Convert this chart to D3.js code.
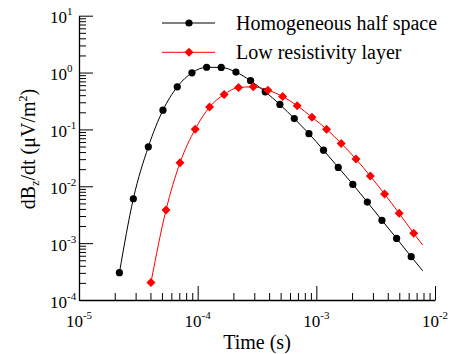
<!DOCTYPE html>
<html>
<head>
<meta charset="utf-8">
<script src="https://cdn.jsdelivr.net/npm/d3@7"></script>
<style>
  body { margin: 0; background: #fff; }
  svg text { font-family: "Liberation Serif", "Times New Roman", serif; fill: #000; }
</style>
</head>
<body>
<div id="chart"></div>
<script>
// data (time in s, dBz/dt in uV/m2)
var halfTime = [2.19e-5, 2.87e-5, 3.84e-5, 5.1e-5, 6.73e-5, 8.95e-5, 1.19e-4, 1.58e-4, 2.10e-4, 2.79e-4,
                3.71e-4, 4.93e-4, 6.52e-4, 8.66e-4, 1.15e-3, 1.53e-3, 2.03e-3, 2.69e-3, 3.57e-3, 4.75e-3, 6.30e-3];
var halfValue = [3.02e-4, 6.03e-3, 4.94e-2, 0.218, 0.561, 0.99, 1.24, 1.23, 1.02, 0.72,
                 0.458, 0.275, 0.155, 0.0843, 0.0432, 0.0215, 0.0108, 5.27e-3, 2.52e-3, 1.21e-3, 5.77e-4];
var halfEnd = [7.87e-3, 3.27e-4]; // curve keeps going past the last marker

var lowTime = [4.04e-5, 5.41e-5, 7.10e-5, 9.53e-5, 1.26e-4, 1.67e-4, 2.21e-4, 2.94e-4, 3.91e-4, 5.20e-4,
               6.90e-4, 9.18e-4, 1.22e-3, 1.62e-3, 2.16e-3, 2.85e-3, 3.76e-3, 4.99e-3, 6.61e-3];
var lowValue = [2.03e-4, 3.82e-3, 0.0259, 0.101, 0.248, 0.412, 0.547, 0.561, 0.491, 0.379,
                0.262, 0.164, 0.101, 0.0568, 0.0301, 0.0151, 7.29e-3, 3.34e-3, 1.49e-3];
var lowEnd = [7.87e-3, 9.27e-4];

var seriesNames = ["Homogeneous half space", "Low resistivity layer"];
var xTickExp = [-5, -4, -3, -2];
var yTickExp = [-4, -3, -2, -1, 0, 1];

var width = 453, height = 354;
var serif = "'Liberation Serif', 'Times New Roman', serif";

var svg = d3.select("#chart").append("svg")
    .attr("width", width)
    .attr("height", height);

var x = d3.scaleLog().domain([1e-5, 1e-2]).range([79, 435]);
var y = d3.scaleLog().domain([1e-4, 1e1]).range([300, 15.7]);

function isMajor(d) {
  var l = Math.log10(d);
  return Math.abs(l - Math.round(l)) < 1e-6;
}

// minor ticks
var minorX = x.ticks().filter(function(d) { return !isMajor(d); });
var minorY = y.ticks().filter(function(d) { return !isMajor(d); });

svg.append("g")
    .attr("transform", "translate(0,300)")
    .call(d3.axisBottom(x).tickValues(minorX).tickSize(-7).tickFormat(""))
    .call(function(g) { g.select(".domain").remove(); });
svg.append("g")
    .attr("transform", "translate(79,0)")
    .call(d3.axisLeft(y).tickValues(minorY).tickSize(-7).tickFormat(""))
    .call(function(g) { g.select(".domain").remove(); });

// major ticks + axis lines
svg.append("g")
    .attr("class", "x axis")
    .attr("transform", "translate(0,300)")
    .call(d3.axisBottom(x).tickValues(xTickExp.map(function(e) { return Math.pow(10, e); }))
      .tickSize(-14).tickSizeOuter(0).tickFormat(""));
svg.append("g")
    .attr("class", "y axis")
    .attr("transform", "translate(79,0)")
    .call(d3.axisLeft(y).tickValues(yTickExp.map(function(e) { return Math.pow(10, e); }))
      .tickSize(-14).tickSizeOuter(0).tickFormat(""));

svg.selectAll(".domain").attr("stroke", "#000").attr("stroke-width", 1.3);
svg.selectAll(".tick line").attr("stroke", "#000").attr("stroke-width", 1);

// tick labels as 10^n
var xLab = svg.selectAll(".xlab")
    .data(xTickExp)
  .enter().append("text")
    .attr("class", "xlab")
    .attr("x", function(d) { return x(Math.pow(10, d)); })
    .attr("y", 326.5)
    .attr("text-anchor", "middle")
    .style("font-family", serif)
    .style("font-size", "17px");
xLab.append("tspan").text("10");
xLab.append("tspan").attr("dy", -8).style("font-size", "11px").text(function(d) { return d; });

var yLab = svg.selectAll(".ylab")
    .data(yTickExp)
  .enter().append("text")
    .attr("class", "ylab")
    .attr("x", 50)
    .attr("y", function(d) { return y(Math.pow(10, d)) + 7.5; })
    .style("font-family", serif)
    .style("font-size", "17px");
yLab.append("tspan").text("10");
yLab.append("tspan").attr("dy", -8).style("font-size", "11px").text(function(d) { return d; });

// axis titles
svg.append("text")
    .attr("x", 257)
    .attr("y", 349)
    .attr("text-anchor", "middle")
    .style("font-family", serif)
    .style("font-size", "20px")
    .text("Time (s)");

var yTitle = svg.append("text")
    .attr("transform", "translate(35,149) rotate(-90)")
    .attr("text-anchor", "middle")
    .style("font-family", serif)
    .style("font-size", "20px");
yTitle.append("tspan").text("dB");
yTitle.append("tspan").attr("dy", 4).style("font-size", "12px").text("z");
yTitle.append("tspan").attr("dy", -4).text("/dt (\u03bcV/m");
yTitle.append("tspan").attr("dy", -8).style("font-size", "12px").text("2");
yTitle.append("tspan").attr("dy", 8).text(")");

// series
var halfData = halfTime.map(function(t, i) { return [t, halfValue[i]]; });
var lowData = lowTime.map(function(t, i) { return [t, lowValue[i]]; });

var line = d3.line()
    .x(function(d) { return x(d[0]); })
    .y(function(d) { return y(d[1]); })
    .curve(d3.curveMonotoneX);

svg.append("path")
    .datum(halfData.concat([halfEnd]))
    .attr("fill", "none")
    .attr("stroke", "#000")
    .attr("stroke-width", 1)
    .attr("d", line);

svg.append("path")
    .datum(lowData.concat([lowEnd]))
    .attr("fill", "none")
    .attr("stroke", "#ff0000")
    .attr("stroke-width", 1)
    .attr("d", line);

svg.selectAll(".dot")
    .data(halfData)
  .enter().append("circle")
    .attr("class", "dot")
    .attr("r", 3.6)
    .attr("cx", function(d) { return x(d[0]); })
    .attr("cy", function(d) { return y(d[1]); })
    .style("fill", "#000");

var diamond = "M0,-4.5L4.5,0L0,4.5L-4.5,0Z";
svg.selectAll(".dia")
    .data(lowData)
  .enter().append("path")
    .attr("class", "dia")
    .attr("d", diamond)
    .attr("transform", function(d) { return "translate(" + x(d[0]) + "," + y(d[1]) + ")"; })
    .style("fill", "#ff0000");

// legend
var legend = svg.selectAll(".legend")
    .data(seriesNames)
  .enter().append("g")
    .attr("class", "legend")
    .attr("transform", function(d, i) { return "translate(0," + (23 + i * 29.3) + ")"; });

legend.append("line")
    .attr("x1", 162).attr("x2", 215)
    .attr("stroke", function(d, i) { return i == 0 ? "#000" : "#ff0000"; })
    .attr("stroke-width", 1);

legend.each(function(d, i) {
  var g = d3.select(this);
  if (i == 0) {
    g.append("circle").attr("cx", 189).attr("r", 3.6).style("fill", "#000");
  } else {
    g.append("path").attr("d", diamond).attr("transform", "translate(189,0)").style("fill", "#ff0000");
  }
});

legend.append("text")
    .attr("x", 236)
    .attr("y", 6.5)
    .style("font-family", serif)
    .style("font-size", "20px")
    .text(function(d) { return d; });
</script>
</body>
</html>
